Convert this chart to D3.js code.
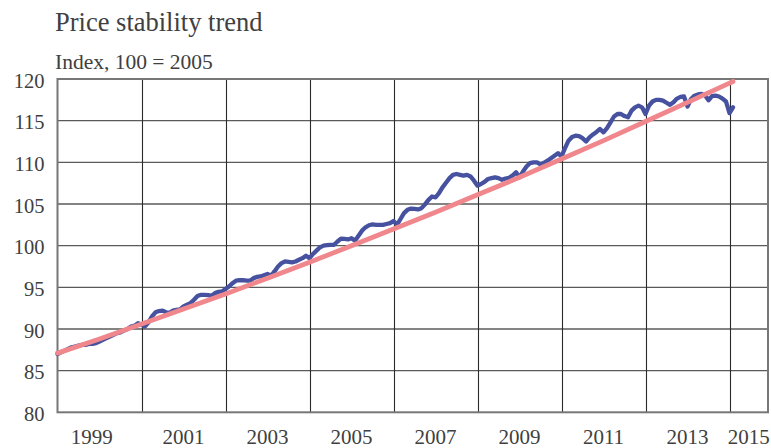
<!DOCTYPE html>
<html>
<head>
<meta charset="utf-8">
<script src="https://cdn.jsdelivr.net/npm/d3@7"></script>
<style>
  html, body { margin: 0; padding: 0; background: #fff; }
  svg { display: block; }
  text { font-family: "Liberation Serif", "Times New Roman", serif; fill: #404040; }
</style>
</head>
<body>
<svg id="chart" width="771" height="448"></svg>
<script>
// ---- data ----
const title = "Price stability trend";
const subtitle = "Index, 100 = 2005";
const startYear = 1998;            // first month of the series = Jan 1998
const lastAxisMonth = 203;         // axis runs to Dec 2014 (month index)

// Monthly index, Jan 1998 .. Feb 2014
const cpi1998 = [87.0, 87.2, 87.4, 87.6, 87.8, 87.9, 88.0, 88.1, 88.1, 88.2, 88.2, 88.3];
const cpi1999 = [88.5, 88.7, 88.9, 89.1, 89.3, 89.5, 89.6, 89.8, 90.0, 90.3, 90.4, 90.7];
const cpi2000 = [90.5, 90.3, 90.8, 91.5, 92.0, 92.15, 92.2, 92.0, 91.95, 92.2, 92.3, 92.35];
const cpi2001 = [92.7, 92.9, 93.1, 93.5, 93.95, 94.1, 94.1, 94.05, 94.0, 94.3, 94.45, 94.5];
const cpi2002 = [94.8, 95.1, 95.5, 95.8, 95.85, 95.85, 95.8, 95.8, 96.1, 96.25, 96.3, 96.45];
const cpi2003 = [96.6, 96.4, 96.9, 97.5, 97.9, 98.1, 98.05, 98.0, 98.1, 98.3, 98.5, 98.8];
const cpi2004 = [98.5, 99.0, 99.4, 99.8, 100.0, 100.05, 100.1, 100.1, 100.5, 100.85, 100.8, 100.75];
const cpi2005 = [100.9, 100.6, 101.2, 101.8, 102.2, 102.45, 102.55, 102.5, 102.5, 102.5, 102.6, 102.7];
const cpi2006 = [102.95, 102.5, 103.2, 103.9, 104.3, 104.45, 104.4, 104.35, 104.5, 104.95, 105.5, 105.9];
const cpi2007 = [105.8, 106.3, 107.0, 107.55, 108.1, 108.5, 108.6, 108.5, 108.4, 108.5, 108.3, 107.8];
const cpi2008 = [107.2, 107.4, 107.65, 108.0, 108.1, 108.2, 108.1, 107.9, 108.05, 108.15, 108.4, 108.8];
const cpi2009 = [108.2, 108.9, 109.5, 109.9, 110.0, 110.0, 109.75, 109.95, 110.2, 110.5, 110.8, 111.1];
const cpi2010 = [110.7, 111.7, 112.6, 113.05, 113.2, 113.15, 112.9, 112.5, 113.0, 113.35, 113.65, 114.0];
const cpi2011 = [113.6, 114.1, 114.8, 115.5, 115.8, 115.8, 115.55, 115.4, 116.2, 116.6, 116.8, 116.6];
const cpi2012 = [115.8, 116.8, 117.3, 117.5, 117.5, 117.4, 117.15, 116.9, 117.2, 117.65, 117.85, 117.9];
const cpi2013 = [116.7, 117.6, 118.0, 118.15, 118.2, 118.05, 117.45, 117.95, 118.0, 117.9, 117.65, 117.3];
const cpi2014 = [115.9, 116.6];

// Trend line (January of each year, plus the last month)
const trendMonths = [0, 12, 24, 36, 48, 60, 72, 84, 96, 108, 120, 132, 144, 156, 168, 180, 192, 193];
const trendValues = [87.1, 88.8, 90.6, 92.4, 94.2, 96.1, 98.0, 100.0, 102.0, 104.0, 106.1, 108.2, 110.4, 112.6, 114.9, 117.2, 119.5, 119.7];

const yTicks = [80, 85, 90, 95, 100, 105, 110, 115, 120];
const gridYears = [2000, 2002, 2004, 2006, 2008, 2010, 2012, 2014];
const xLabels = ["1999", "2001", "2003", "2005", "2007", "2009", "2011", "2013", "2015"];

// ---- build ----
const cpi = [].concat(cpi1998, cpi1999, cpi2000, cpi2001, cpi2002, cpi2003, cpi2004,
  cpi2005, cpi2006, cpi2007, cpi2008, cpi2009, cpi2010, cpi2011, cpi2012, cpi2013, cpi2014);
const cpiData = cpi.map((v, i) => ({ m: i, v }));
const trendData = trendMonths.map((m, i) => ({ m, v: trendValues[i] }));

const svg = d3.select("#chart");
const pLeft = 57.5, pRight = 768, pTop = 79, pBottom = 412.3;

const x = d3.scaleLinear().domain([0, lastAxisMonth]).range([pLeft, pRight]);
const y = d3.scaleLinear().domain([80, 120]).range([pBottom, pTop]);

// horizontal grid
svg.append("g").selectAll("line").data(yTicks.filter(t => t > 80 && t < 120)).join("line")
  .attr("x1", pLeft).attr("x2", pRight)
  .attr("y1", d => y(d)).attr("y2", d => y(d))
  .attr("stroke", "#5a5a5a").attr("stroke-width", 1.3);

// vertical grid
const gridMonths = gridYears.map(yr => (yr - startYear) * 12);
svg.append("g").selectAll("line").data(gridMonths).join("line")
  .attr("x1", d => Math.round(x(d)) + 0.5).attr("x2", d => Math.round(x(d)) + 0.5)
  .attr("y1", pTop).attr("y2", pBottom)
  .attr("stroke", "#2a2a2a").attr("stroke-width", 1.1);

// frame
svg.append("rect")
  .attr("x", pLeft).attr("y", pTop)
  .attr("width", pRight - pLeft).attr("height", pBottom - pTop)
  .attr("fill", "none").attr("stroke", "#777").attr("stroke-width", 2);

// y labels
svg.append("g").selectAll("text").data(yTicks).join("text")
  .attr("x", 44.5).attr("y", d => y(d) + 8.8)
  .attr("text-anchor", "end")
  .attr("font-size", 20.5)
  .text(d => d);

// x labels, centred between grid lines
const bounds = [-4.5].concat(gridMonths, [lastAxisMonth]);
svg.append("g").selectAll("text").data(xLabels).join("text")
  .attr("x", (d, i) => (x(bounds[i]) + x(bounds[i + 1])) / 2)
  .attr("y", 444)
  .attr("text-anchor", "middle")
  .attr("font-size", 21)
  .text(d => d);

// lines
const line = d3.line().x(d => x(d.m)).y(d => y(d.v));
svg.append("path").datum(cpiData)
  .attr("d", line)
  .attr("fill", "none").attr("stroke", "#4652a0").attr("stroke-width", 4.3)
  .attr("stroke-linejoin", "round").attr("stroke-linecap", "round");
svg.append("path").datum(trendData)
  .attr("d", line)
  .attr("fill", "none").attr("stroke", "#f0878c").attr("stroke-width", 4.8)
  .attr("stroke-linejoin", "round").attr("stroke-linecap", "round");

// titles
svg.append("text").attr("x", 55).attr("y", 30.5).attr("font-size", 26.5).text(title);
svg.append("text").attr("x", 55).attr("y", 69).attr("font-size", 21.5).text(subtitle);
</script>
</body>
</html>
